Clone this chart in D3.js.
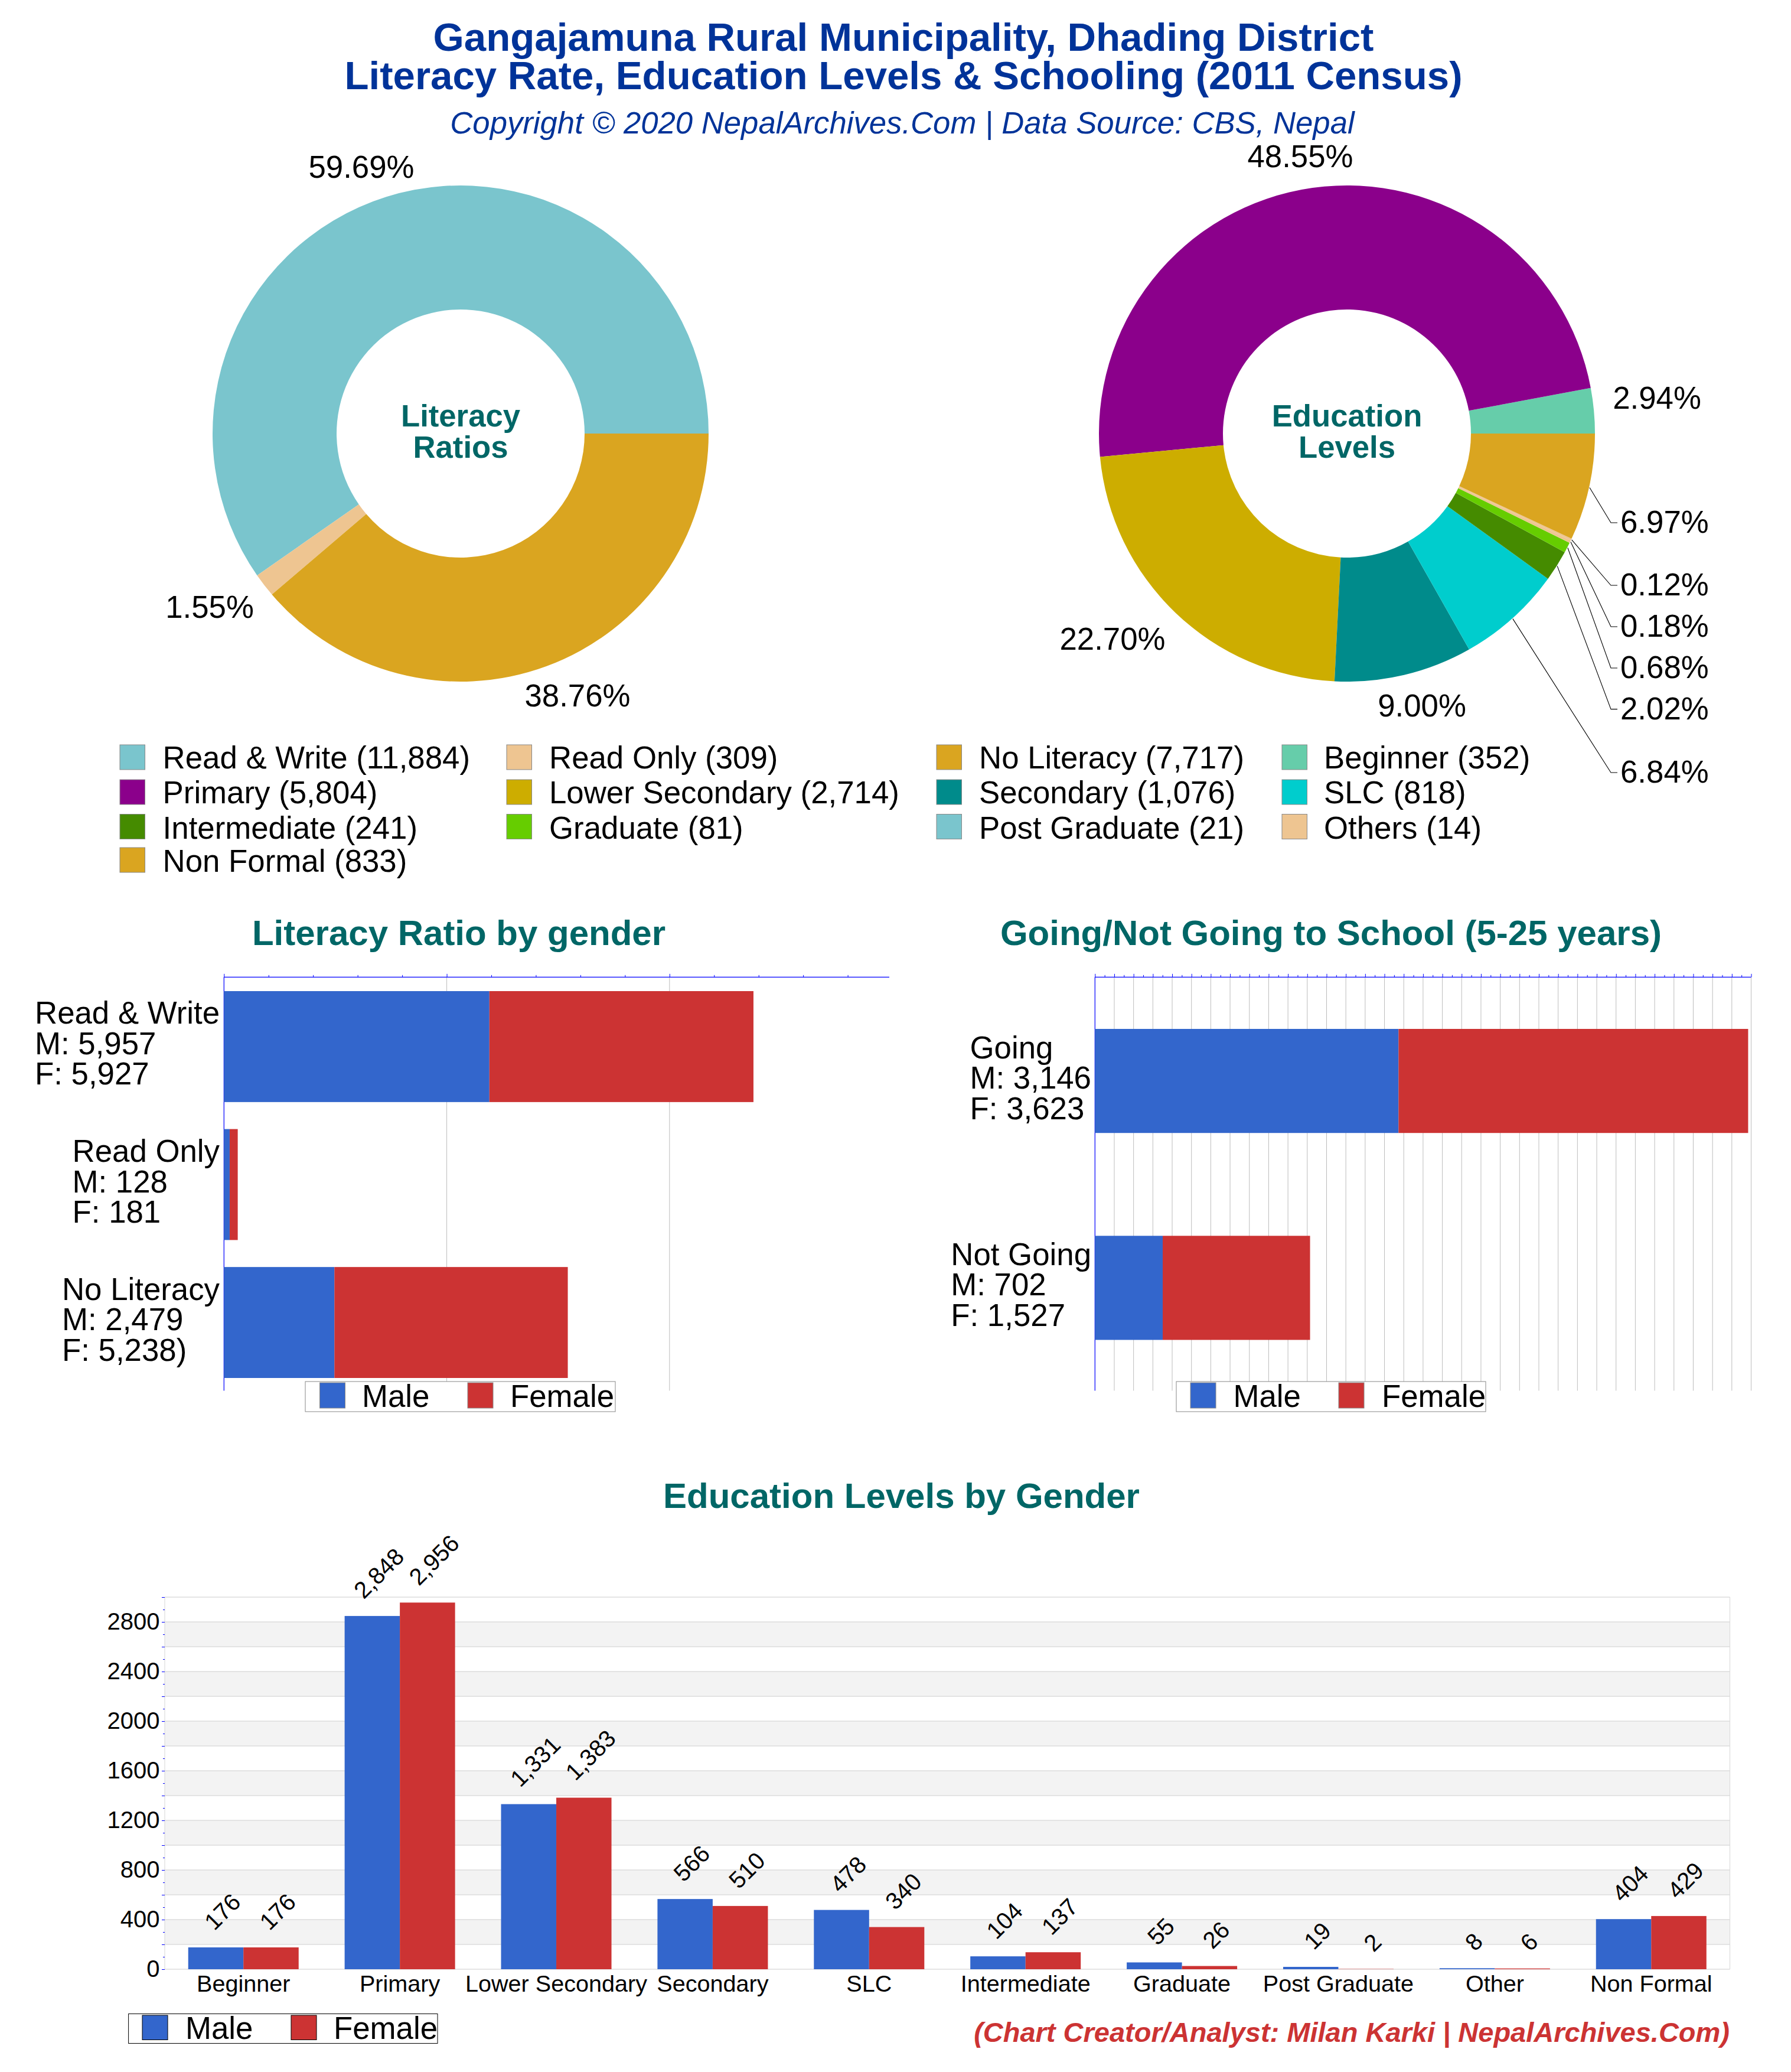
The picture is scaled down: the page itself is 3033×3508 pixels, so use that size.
<!DOCTYPE html>
<html><head><meta charset="utf-8">
<script src="https://cdnjs.cloudflare.com/ajax/libs/d3/7.8.5/d3.min.js"></script>
<style>html,body{margin:0;padding:0;background:#fff}svg{display:block}text{font-family:"Liberation Sans",Arial,sans-serif}</style>
</head><body><svg id="c" width="3033" height="3508"></svg>
<script>
const litLabels=["Read & Write","Read Only","No Literacy"];
const litValues=[11884,309,7717];
const litPct=["59.69%","1.55%","38.76%"];
const litColors=["#7AC5CD","#EEC591","#DAA520"];
const eduLabels=["Beginner","Primary","Lower Secondary","Secondary","SLC","Intermediate","Graduate","Post Graduate","Others","Non Formal"];
const eduValues=[352,5804,2714,1076,818,241,81,21,14,833];
const eduPct=["2.94%","48.55%","22.70%","9.00%","6.84%","2.02%","0.68%","0.18%","0.12%","6.97%"];
const eduColors=["#66CDAA","#8B008B","#CDAD00","#008B8B","#00CDCD","#458B00","#66CD00","#7AC5CD","#EEC591","#DAA520"];
const eduSliceColors=["#66CDAA","#8B008B","#CDAD00","#008B8B","#00CDCD","#458B00","#66CD00","#EEC591","#EEC591","#DAA520"];
const litMale=[5957,128,2479], litFemale=[5927,181,5238];
const litRowLabels=["Read & Write","Read Only","No Literacy"];
const litF=["F: 5,927","F: 181","F: 5,238)"];
const goLabels=["Going","Not Going"];
const goMale=[3146,702], goFemale=[3623,1527];
const eduCats=["Beginner","Primary","Lower Secondary","Secondary","SLC","Intermediate","Graduate","Post Graduate","Other","Non Formal"];
const eduMale=[176,2848,1331,566,478,104,55,19,8,404];
const eduFemale=[176,2956,1383,510,340,137,26,2,6,429];
const yLabels=[0,400,800,1200,1600,2000,2400,2800];

const MALE="#3366CC",FEMALE="#CC3333",TEAL="#006666",BLUE="#003399",FS=52.8;
const svg=d3.select("#c");
const fmt=d3.format(",");
function txt(g,s,x,y,size,o={}){return g.append("text").text(s).attr("x",x).attr("y",y).attr("font-size",size)
  .attr("text-anchor",o.anchor||"start").attr("font-weight",o.weight||"normal").attr("font-style",o.style||"normal").attr("fill",o.fill||"#000");}

txt(svg,"Gangajamuna Rural Municipality, Dhading District",1530,86,67.2,{anchor:"middle",weight:"bold",fill:BLUE});
txt(svg,"Literacy Rate, Education Levels & Schooling (2011 Census)",1530,151,67.2,{anchor:"middle",weight:"bold",fill:BLUE});
txt(svg,"Copyright © 2020 NepalArchives.Com | Data Source: CBS, Nepal",1528,226,52.7,{anchor:"middle",style:"italic",fill:BLUE});

const CY=734;
function donut(cx,cy,vals,cols,center){
  const g=svg.append("g").attr("transform",`translate(${cx},${cy})`);
  const pie=d3.pie().sort(null).startAngle(Math.PI/2).endAngle(Math.PI/2-2*Math.PI);
  const arc=d3.arc().innerRadius(210).outerRadius(420);
  const arcs=pie(vals);
  g.selectAll("path").data(arcs).join("path").attr("d",arc).attr("fill",(d,i)=>cols[i]);
  center.forEach((t,i)=>txt(g,t,0,-12+i*53,52.7,{anchor:"middle",weight:"bold",fill:TEAL}));
  return {g,arcs};
}
const pl=donut(780,CY,litValues,litColors,["Literacy","Ratios"]);
const plPos=[[612,301],[355,1046],[978,1196]];
litPct.forEach((t,i)=>txt(svg,t,plPos[i][0],plPos[i][1],FS,{anchor:"middle"}));

const pr=donut(2281,CY,eduValues,eduSliceColors,["Education","Levels"]);
const prPos={0:[2806,692],1:[2202,283],2:[1884,1100],3:[2408,1213]};
Object.keys(prPos).forEach(i=>txt(svg,eduPct[i],prPos[i][0],prPos[i][1],FS,{anchor:"middle"}));
const leaders=[[9,885],[8,991],[7,1061],[6,1131],[5,1200.6],[4,1308]];
leaders.forEach(([i,ly])=>{
  const a=pr.arcs[i],m=(a.startAngle+a.endAngle)/2;
  const sx=2281+421*Math.sin(m),sy=CY-421*Math.cos(m);
  svg.append("path").attr("d",d3.line()([[sx,sy],[2728,ly],[2739,ly]])).attr("fill","none").attr("stroke","#000").attr("stroke-width",1.1);
  txt(svg,eduPct[i],2744,ly+17,FS);
});

const legCols=[[203,275.6],[858,930],[1586,1658],[2171,2242]];
const legRows=[[1261,1301],[1320,1360],[1378.5,1420],[1435,1476]];
const legItems=[
 [litLabels[0],litValues[0],litColors[0]],[litLabels[1],litValues[1],litColors[1]],[litLabels[2],litValues[2],litColors[2]],
 ...eduLabels.map((l,i)=>[l,eduValues[i],eduColors[i]])];
legItems.forEach((d,i)=>{
  const c=legCols[i%4],r=legRows[Math.floor(i/4)];
  svg.append("rect").attr("x",c[0]).attr("y",r[0]).attr("width",42.5).attr("height",42).attr("fill",d[2]).attr("stroke","#888").attr("stroke-width",1);
  txt(svg,`${d[0]} (${fmt(d[1])})`,c[1],r[1],FS);
});

function legend(x0,y0,w,h,swY,swH,sw1,t1,sw2,t2,base,dark){
  const g=svg.append("g");
  g.append("rect").attr("x",x0).attr("y",y0).attr("width",w).attr("height",h).attr("fill","#fff").attr("stroke",dark?"#000":"#888").attr("stroke-width",1);
  [[sw1,t1,MALE,"Male"],[sw2,t2,FEMALE,"Female"]].forEach(([s,t,c,n])=>{
    g.append("rect").attr("x",s).attr("y",swY).attr("width",43).attr("height",swH).attr("fill",c).attr("stroke",dark?"#000":"#888").attr("stroke-width",1);
    txt(g,n,t,base,FS);
  });
}

function hbar(o){
  const x=d3.scaleLinear().domain(o.domain).range(o.xr);
  const minor=d3.range(o.domain[0],o.domain[1]+1,o.minor);
  const g=svg.append("g");
  o.grid.forEach(v=>g.append("line").attr("x1",x(v)).attr("x2",x(v)).attr("y1",o.axisY).attr("y2",o.bottom).attr("stroke",v===0?"#0000FF":"#BDBDBD").attr("stroke-width",v===0?1.2:1));
  const ax=g.append("g").attr("transform",`translate(0,${o.axisY})`);
  ax.call(d3.axisTop(x).tickValues(minor).tickSize(3.6).tickFormat(""));
  ax.select(".domain").attr("stroke","#0000FF").attr("stroke-width",1.2).attr("d",`M${o.xr[0]},0H${o.xr[1]}`);
  ax.selectAll(".tick line").attr("stroke","#0000FF").attr("stroke-width",1)
    .attr("y2",d=>d%o.major===0?-5.5:-3.5);
  const y=d3.scaleBand().domain(o.labels).range(o.yr).paddingInner(o.pi).paddingOuter(0);
  o.labels.forEach((l,i)=>{
    g.append("rect").attr("x",x(0)).attr("y",y(l)).attr("width",x(o.male[i])-x(0)).attr("height",y.bandwidth()).attr("fill",MALE);
    g.append("rect").attr("x",x(o.male[i])).attr("y",y(l)).attr("width",x(o.female[i])-x(0)).attr("height",y.bandwidth()).attr("fill",FEMALE);
    const cy=y(l)+y.bandwidth()/2;
    const lines=[l,"M: "+fmt(o.male[i]),o.f?o.f[i]:"F: "+fmt(o.female[i])];
    const tg=g.append("g");
    const ts=lines.map((t,k)=>txt(tg,t,0,cy+13+(k-1)*51.5,FS));
    const mw=d3.max(ts,t=>t.node().getComputedTextLength());
    ts.forEach(t=>t.attr("x",o.labelRight-mw));
  });
  txt(svg,o.title,o.titleX,1600,60,{anchor:"middle",weight:"bold",fill:TEAL});
}
hbar({domain:[0,14933],xr:[379.3,1506],minor:1000,major:5000,grid:[0,5000,10000],axisY:1654.3,bottom:2354.5,
  labels:litRowLabels,male:litMale,female:litFemale,f:litF,yr:[1678,2333],pi:0.1957,labelRight:372,
  title:"Literacy Ratio by gender",titleX:777});
legend(517,2339,525,51,2341,43,541.5,613,792,864,2382);
hbar({domain:[0,6800],xr:[1854.3,2965.5],minor:100,major:200,grid:d3.range(0,6801,200),axisY:1654.3,bottom:2354.5,
  labels:goLabels,male:goMale,female:goFemale,yr:[1742,2268.5],pi:0.497,labelRight:1848,
  title:"Going/Not Going to School (5-25 years)",titleX:2254});
legend(1992,2339,524,51,2341,43,2016,2088.5,2267,2340,2382);

const PL=279,PR=2929.5;
const bx=d3.scaleBand().domain(eduCats).range([PL,PR]).paddingInner(0.294).paddingOuter(0.15);
const by=d3.scaleLinear().domain([0,3000]).range([3334,2704]);
const gb=svg.append("g");
d3.range(0,2500,400).forEach(v=>{
  gb.append("rect").attr("x",PL).attr("width",PR-PL).attr("y",by(v+400)).attr("height",by(v+200)-by(v+400)).attr("fill","#F3F3F3");
});
d3.range(0,3001,200).forEach(v=>gb.append("line").attr("x1",PL).attr("x2",PR).attr("y1",by(v)).attr("y2",by(v)).attr("stroke","#DCDCDC").attr("stroke-width",1.5));
[PL,PR].forEach(x=>gb.append("line").attr("x1",x).attr("x2",x).attr("y1",2704).attr("y2",3334).attr("stroke","#DCDCDC").attr("stroke-width",1.2));
const ay=gb.append("g").attr("transform",`translate(${PL},0)`);
ay.call(d3.axisLeft(by).tickValues(d3.range(0,3001,100)).tickSize(3).tickFormat(""));
ay.select(".domain").remove();
ay.selectAll(".tick line").attr("stroke","#0000FF").attr("stroke-width",1).attr("x2",d=>d%200===0?-5:-3);
yLabels.forEach(v=>txt(gb,v,270.5,by(v)+13,40,{anchor:"end"}));
const sub=d3.scaleBand().domain(["m","f"]).range([0,bx.bandwidth()]);
eduCats.forEach((c,i)=>{
  [["m",eduMale[i],MALE],["f",eduFemale[i],FEMALE]].forEach(([k,v,col])=>{
    const x=bx(c)+sub(k);
    gb.append("rect").attr("x",x).attr("y",by(v)).attr("width",sub.bandwidth()).attr("height",by(0)-by(v)).attr("fill",col);
    const t=gb.append("text").text(fmt(v)).attr("font-size",40).attr("text-anchor","middle");
    const L=t.node().getComputedTextLength();
    t.attr("transform",`translate(${x+sub.bandwidth()/2+21},${by(v)-27-L*0.354}) rotate(-45)`);
  });
  txt(gb,c,bx(c)+bx.bandwidth()/2,3372,39.6,{anchor:"middle"});
});
txt(svg,"Education Levels by Gender",1526.5,2553,60,{anchor:"middle",weight:"bold",fill:TEAL});
legend(217.6,3409.5,523.4,50,3412,41.5,241,314,493,565,3452,true);
txt(svg,"(Chart Creator/Analyst: Milan Karki | NepalArchives.Com)",2929,3457,47,{anchor:"end",weight:"bold",style:"italic",fill:FEMALE});
</script></body></html>
